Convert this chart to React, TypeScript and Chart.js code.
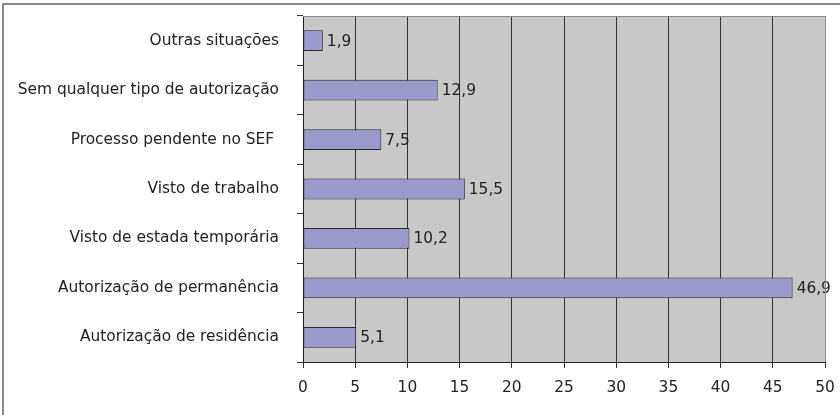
import React, { useEffect, useRef } from "react";
import { Chart, registerables } from "chart.js";

Chart.register(...registerables);

const categories = [
  "Outras situações",
  "Sem qualquer tipo de autorização",
  "Processo pendente no SEF ",
  "Visto de trabalho",
  "Visto de estada temporária",
  "Autorização de permanência",
  "Autorização de residência",
];
const values = [1.9, 12.9, 7.5, 15.5, 10.2, 46.9, 5.1];
const xMin = 0;
const xMax = 50;
const xStep = 5;

const FONT = "'DejaVu Sans', sans-serif";
const FSIZE = 15.4;

function zeroPad(scale: any) {
  scale.paddingTop = 0;
  scale.paddingBottom = 0;
  scale.paddingLeft = 0;
  scale.paddingRight = 0;
}

export default function App() {
  const ref = useRef<HTMLCanvasElement | null>(null);

  useEffect(() => {
    if (!ref.current) return;
    const bgPlugin = {
      id: "plotbg",
      beforeDraw(chart: any) {
        const { ctx, chartArea: a } = chart;
        ctx.save();
        ctx.fillStyle = "#c8c8c8";
        ctx.fillRect(a.left, a.top, a.right - a.left, a.bottom - a.top);
        ctx.restore();
      },
      afterDraw(chart: any) {
        const { ctx, chartArea: a } = chart;
        ctx.save();
        ctx.strokeStyle = "#8c8c8c";
        ctx.lineWidth = 1;
        ctx.beginPath();
        ctx.moveTo(a.left, a.top + 0.5);
        ctx.lineTo(a.right + 0.5, a.top + 0.5);
        ctx.lineTo(a.right + 0.5, a.bottom);
        ctx.stroke();
        ctx.restore();
      },
    };
    const labelPlugin = {
      id: "vlabels",
      afterDatasetsDraw(chart: any) {
        const { ctx } = chart;
        const meta = chart.getDatasetMeta(0);
        ctx.save();
        ctx.font = `${FSIZE}px ${FONT}`;
        ctx.fillStyle = "#222";
        ctx.textAlign = "left";
        ctx.textBaseline = "middle";
        meta.data.forEach((bar: any, i: number) => {
          const t = values[i].toFixed(1).replace(".", ",");
          ctx.fillText(t, bar.x + 4, bar.y + 1);
        });
        ctx.restore();
      },
    };
    const chart = new Chart(ref.current, {
      type: "bar",
      data: {
        labels: categories,
        datasets: [
          {
            data: values,
            backgroundColor: "#9999cc",
            borderColor: "#262636",
            borderWidth: 1,
            borderSkipped: false,
            barPercentage: 0.42,
            categoryPercentage: 1,
          },
        ],
      },
      options: {
        indexAxis: "y",
        animation: false,
        responsive: false,
        maintainAspectRatio: false,
        layout: { padding: { left: 0, top: 16, right: 15, bottom: 0 } },
        plugins: { legend: { display: false }, tooltip: { enabled: false } },
        scales: {
          x: {
            min: xMin,
            max: xMax,
            ticks: {
              stepSize: xStep,
              color: "#222",
              font: { family: FONT, size: FSIZE },
              padding: 11,
              maxRotation: 0,
            },
            grid: {
              color: (c: any) => (c.tick && c.tick.value === xMax ? "#8c8c8c" : "#333"),
              tickColor: "#333",
              tickLength: 6,
              lineWidth: 1,
            },
            border: { display: true, color: "#222", width: 1 },
            afterFit(scale: any) {
              scale.height = 53;
              zeroPad(scale);
            },
          },
          y: {
            ticks: {
              color: "#222",
              font: { family: FONT, size: FSIZE },
              padding: 18,
            },
            grid: {
              drawOnChartArea: false,
              drawTicks: true,
              tickLength: 6,
              offset: true,
              color: "#333",
            },
            border: { display: true, color: "#222", width: 1 },
            afterFit(scale: any) {
              scale.width = 303;
              zeroPad(scale);
            },
          },
        },
      },
      plugins: [bgPlugin, labelPlugin],
    });
    return () => chart.destroy();
  }, []);

  return (
    <div style={{ position: "fixed", left: 0, top: 0, width: 840, height: 415, background: "#fff" }}>
      <div
        style={{
          position: "absolute",
          left: 2,
          top: 3,
          width: 860,
          height: 440,
          borderLeft: "2px solid #888",
          borderTop: "2px solid #888",
        }}
      />
      <canvas ref={ref} width={840} height={415} style={{ position: "absolute", left: 0, top: 0 }} />
    </div>
  );
}
